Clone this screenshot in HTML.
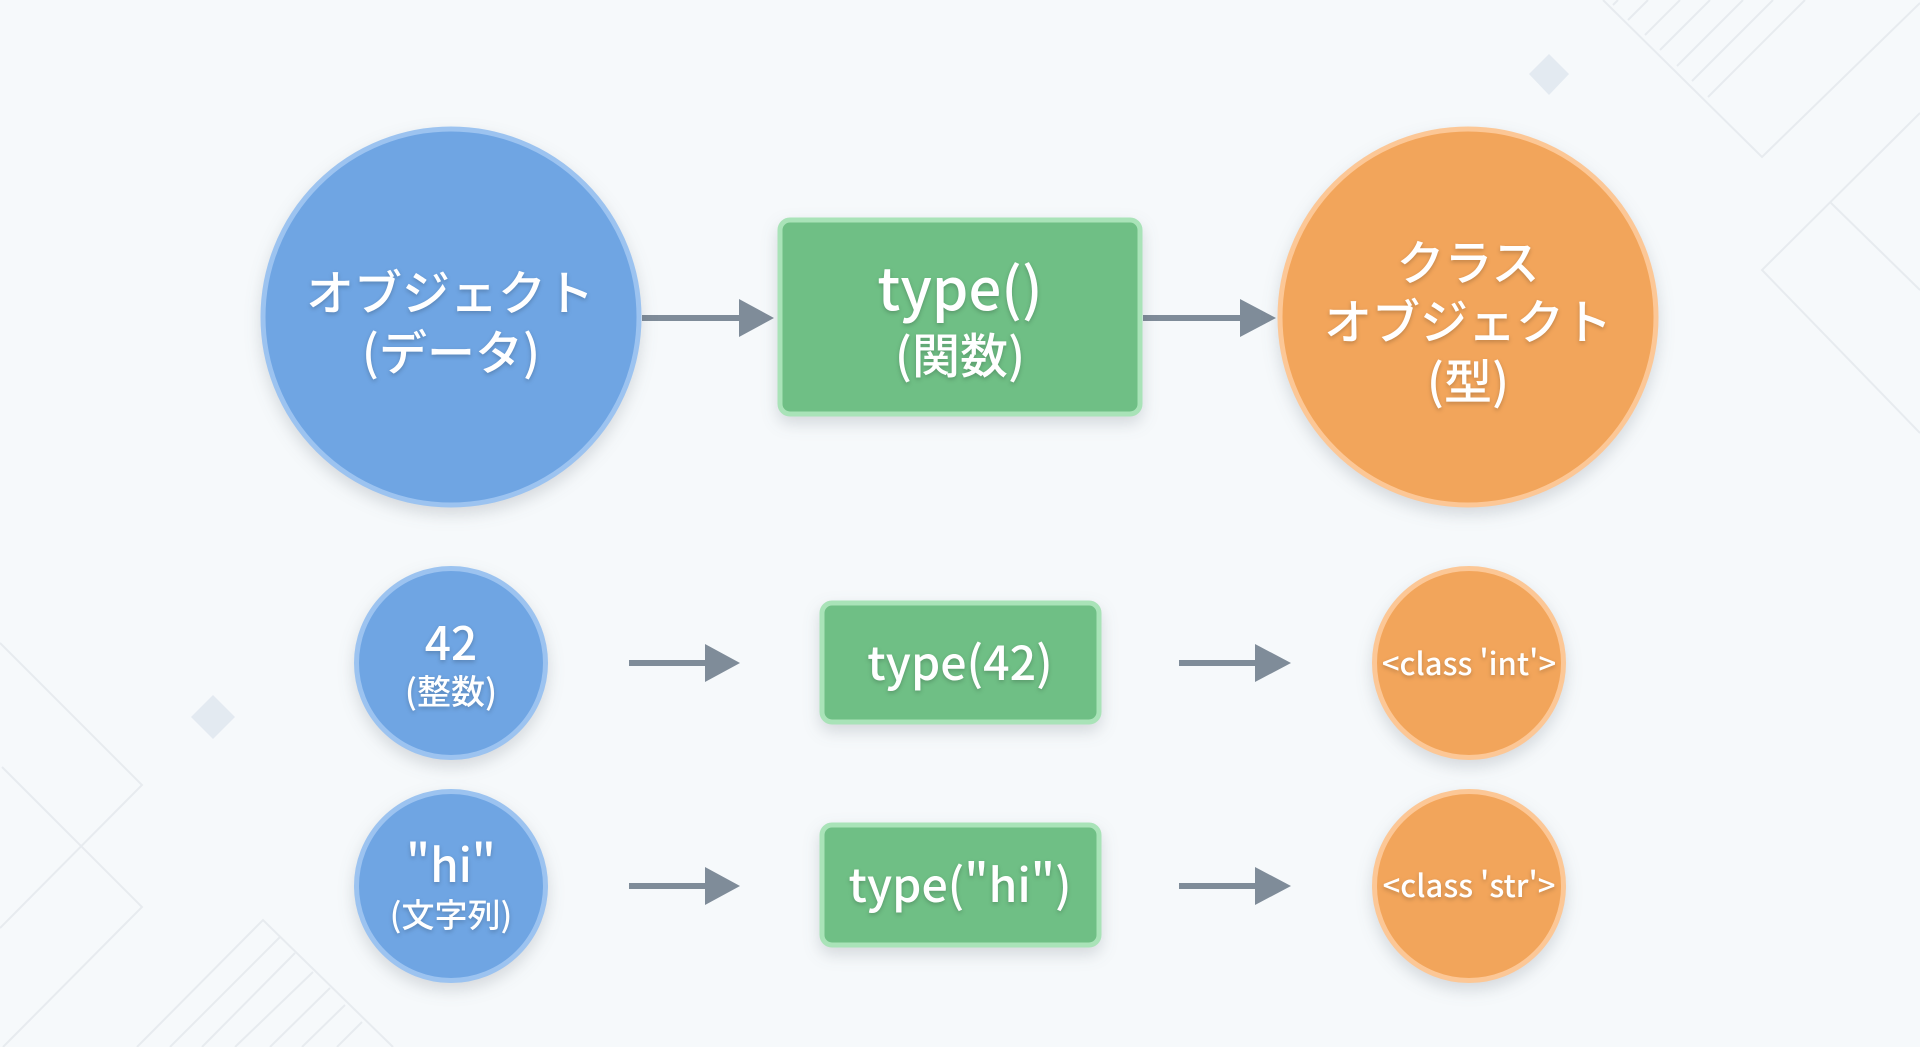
<!DOCTYPE html>
<html lang="ja">
<head>
<meta charset="utf-8">
<title>type()</title>
<style>
html,body{margin:0;padding:0;width:1920px;height:1047px;overflow:hidden;background:#f6f9fb}
svg{display:block}
text{font-family:"Noto Sans CJK JP","Liberation Sans",sans-serif;fill:#fff;text-anchor:middle;font-weight:500;filter:drop-shadow(0 2px 2px rgba(0,0,0,.2))}
.sh{filter:drop-shadow(0 7px 8px rgba(50,60,70,.17))}
.ln{fill:none;stroke:#e7ebef;stroke-width:2}
.b{fill:#6fa5e3;stroke:#9cc3f0;stroke-width:5}
.g{fill:#6fbf85;stroke:#a9e3b8;stroke-width:5}
.o{fill:#f2a55b;stroke:#fcc796;stroke-width:5}
.a{fill:#7f8c99}
</style>
</head>
<body>
<svg width="1920" height="1047" viewBox="0 0 1920 1047" xmlns="http://www.w3.org/2000/svg">
<rect width="1920" height="1047" fill="#f6f9fb"/>
<g class="ln">
<path d="M1603 0L1762 157L1920 3"/>
<path d="M1708 97L1805 0M1692 81L1773 0M1677 66L1743 0M1660 50L1710 0M1645 35L1680 0M1628 20L1648 0M1613 5L1618 0"/>
<path d="M1920 113L1762 270L1920 433"/>
<path d="M1830 202L1920 290"/>
<path d="M0 643L142 785L0 928"/>
<path d="M2 767L142 907L3 1047"/>
<path d="M137 1047L263 920L393 1047"/>
<path d="M170 1047L280 937M202 1047L295 953M235 1047L313 972M270 1047L330 988M302 1047L345 1005M337 1047L362 1022"/>
</g>
<path d="M1549 54L1569 74L1549 95L1529 74Z" fill="#e3eaf1"/>
<path d="M213 695L235 717L213 739L191 717Z" fill="#e3eaf1"/>

<g class="a">
<rect x="642" y="315" width="100" height="6"/><path d="M739 299L774 318L739 337Z"/>
<rect x="1143" y="315" width="100" height="6"/><path d="M1240 299L1276 318L1240 337Z"/>
<rect x="629" y="660" width="78" height="6"/><path d="M705 644L740 663L705 682Z"/>
<rect x="1179" y="660" width="78" height="6"/><path d="M1255 644L1291 663L1255 682Z"/>
<rect x="629" y="883" width="78" height="6"/><path d="M705 867L740 886L705 905Z"/>
<rect x="1179" y="883" width="78" height="6"/><path d="M1255 867L1291 886L1255 905Z"/>
</g>

<g class="sh">
<circle class="b" cx="451" cy="317" r="188"/>
<rect class="g" x="780" y="220" width="360" height="194" rx="10"/>
<circle class="o" cx="1468" cy="317" r="188"/>
<circle class="b" cx="451" cy="663" r="94.5"/>
<rect class="g" x="822" y="603" width="277" height="119" rx="10"/>
<circle class="o" cx="1469" cy="663" r="94.5"/>
<circle class="b" cx="451" cy="886" r="94.5"/>
<rect class="g" x="822" y="825" width="277" height="120" rx="10"/>
<circle class="o" cx="1469" cy="886" r="94.5"/>
</g>

<text x="450" y="310" font-size="48">オブジェクト</text>
<text x="451" y="370" font-size="48">(データ)</text>
<text x="960" y="310" font-size="58">type()</text>
<text x="960" y="373" font-size="48">(関数)</text>
<text x="1468" y="280" font-size="48">クラス</text>
<text x="1468" y="339" font-size="48">オブジェクト</text>
<text x="1468" y="399" font-size="48">(型)</text>
<text x="451" y="660" font-size="46">42</text>
<text x="451" y="704" font-size="34">(整数)</text>
<text x="451" y="882" font-size="46">"hi"</text>
<text x="451" y="927" font-size="33">(文字列)</text>
<text x="960" y="680" font-size="46.5">type(42)</text>
<text x="960" y="902" font-size="46.5">type("hi")</text>
<text x="1469" y="675" font-size="31">&lt;class 'int'&gt;</text>
<text x="1469" y="897" font-size="31">&lt;class 'str'&gt;</text>
</svg>
</body>
</html>
